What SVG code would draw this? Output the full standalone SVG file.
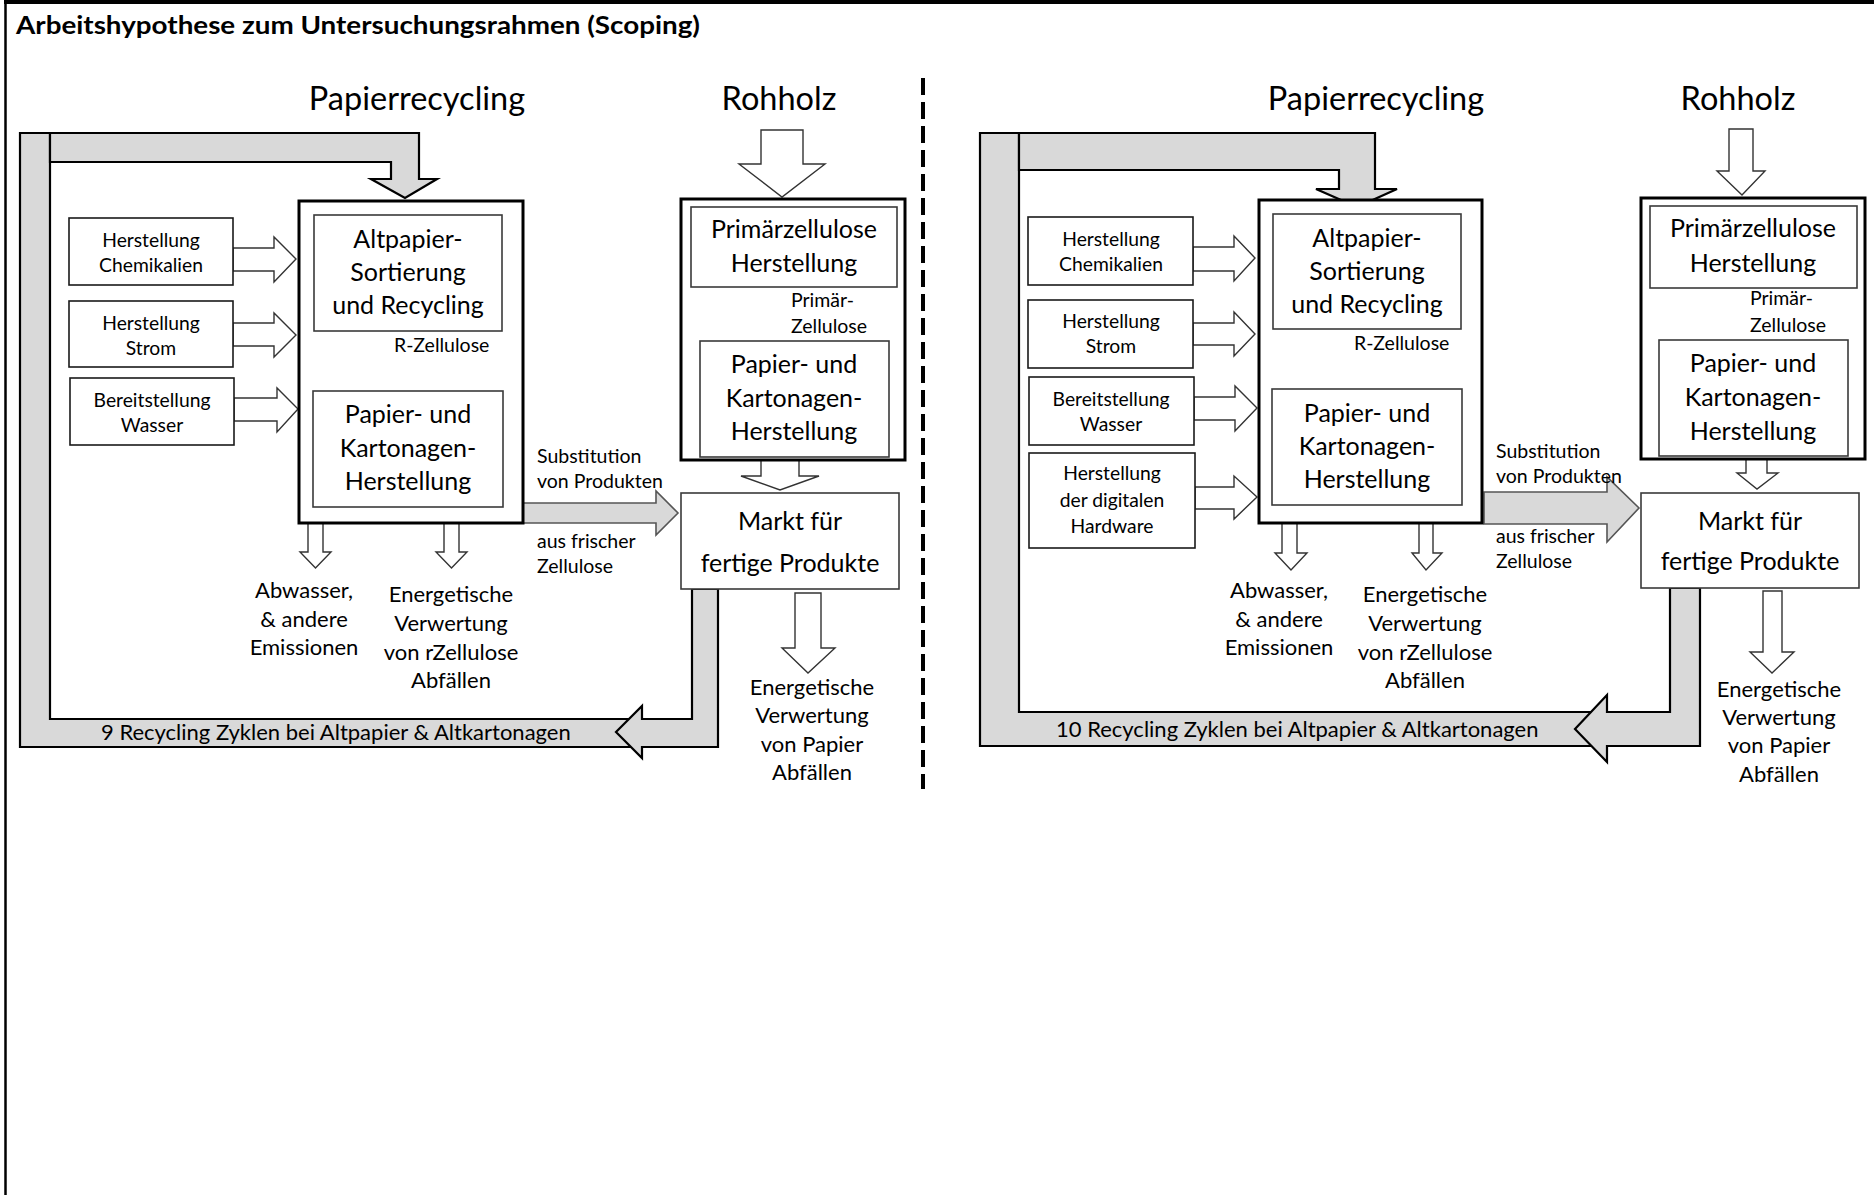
<svg xmlns="http://www.w3.org/2000/svg" width="1874" height="1195" viewBox="0 0 1874 1195">
  <style>
    text { font-family: Lato, "Open Sans", "Liberation Sans", sans-serif; fill: #000; }
    .title { font-size: 25.5px; font-weight: bold; }
    .head { font-size: 32.5px; text-anchor: middle; }
    .big { font-size: 25px; text-anchor: middle; }
    .mid { font-size: 22px; text-anchor: middle; }
    .sm { font-size: 19.3px; text-anchor: middle; }
    .lbl { font-size: 19.5px; }
    .loop-lbl { font-size: 22px; }
    .frame { fill: none; stroke: #000; }
    .outer { fill: #fff; stroke: #000; stroke-width: 3; }
    .inner { fill: #fff; stroke: #3a3a3a; stroke-width: 1.6; }
    .src { fill: #fff; stroke: #1a1a1a; stroke-width: 1.6; }
    .hollow { fill: #fff; stroke: #333; stroke-width: 1.4; stroke-linejoin: miter; }
    .band { fill: #d9d9d9; stroke: #000; stroke-width: 2.2; stroke-linejoin: miter; }
    .flow { fill: #d9d9d9; stroke: #555; stroke-width: 1.6; stroke-linejoin: miter; }
    .divider { stroke: #000; stroke-width: 4; stroke-dasharray: 17 7; }
  </style>

  <!-- page frame and heading -->
  <line class="frame" x1="5.5" y1="1195" x2="5.5" y2="2" stroke-width="2.5"/>
  <line class="frame" x1="4" y1="2" x2="1874" y2="2" stroke-width="4"/>
  <text class="title" x="16" y="34" textLength="684" lengthAdjust="spacingAndGlyphs">Arbeitshypothese zum Untersuchungsrahmen (Scoping)</text>

  <!-- divider between the two scenarios -->
  <line class="divider" x1="923" y1="78" x2="923" y2="789"/>

  <!-- ===================== scenario 1 ===================== -->
  <g id="s1-headings">
    <text class="head" x="417" y="110">Papierrecycling</text>
    <text class="head" x="779" y="110">Rohholz</text>
  </g>

  <g id="s1-connectors">
    <!-- recycling loop band -->
    <polygon class="band" points="20,133 50,133 50,719 636,719 636,747 20,747"/>
    <polygon class="band" points="50,133 419,133 419,179 437,179 405,198 371,179 391,179 391,162 50,162"/>
    <polygon class="band" points="692,589 718,589 718,747 642,747 642,758 616,732 642,706 642,719 692,719"/>
    <!-- inputs -->
    <polygon class="hollow" points="233,248 274,248 274,237 296,259 274,282 274,271 233,271"/>
    <polygon class="hollow" points="233,323 274,323 274,313 296,335 274,357 274,346 233,346"/>
    <polygon class="hollow" points="234,398 277,398 277,388 298,409 277,432 277,421 234,421"/>
    <!-- R-Zellulose -->
    <polygon class="flow" points="359,332 388,332 388,365 404,365 374,389 343,365 359,365"/>
    <!-- outputs of recycling plant -->
    <polygon class="hollow" points="308,523 323,523 323,552 331,552 315.5,568 300,552 308,552"/>
    <polygon class="hollow" points="444,523 459,523 459,552 467,552 451.5,568 436,552 444,552"/>
    <!-- Rohholz -->
    <polygon class="hollow" points="761,130 803,130 803,164 825,164 782,197 739,164 761,164"/>
    <polygon class="hollow" points="735,288 764,288 764,319 779,319 749,340 720,319 735,319"/>
    <polygon class="hollow" points="761,460 799,460 799,476 819,476 780,490 741,476 761,476"/>
    <!-- substitution -->
    <polygon class="flow" points="523,503 656,503 656,491 678,513 656,535 656,523 523,523"/>
    <!-- end of life -->
    <polygon class="hollow" points="795,593 821,593 821,648 835,648 808,673 782,648 795,648"/>
  </g>

  <g id="s1-chem">
    <rect class="src" x="69" y="218" width="164" height="67"/>
    <text class="sm" x="151" y="247">Herstellung</text>
    <text class="sm" x="151" y="272">Chemikalien</text>
  </g>
  <g id="s1-strom">
    <rect class="src" x="69" y="301" width="164" height="66"/>
    <text class="sm" x="151" y="330">Herstellung</text>
    <text class="sm" x="151" y="355">Strom</text>
  </g>
  <g id="s1-wasser">
    <rect class="src" x="70" y="378" width="164" height="67"/>
    <text class="sm" x="152" y="407">Bereitstellung</text>
    <text class="sm" x="152" y="432">Wasser</text>
  </g>

  <g id="s1-recycling">
    <rect class="outer" x="299" y="201" width="224" height="322"/>
    <g id="s1-sortierung">
      <rect class="inner" x="314" y="215" width="188" height="116"/>
      <text class="big" x="408" y="248">Altpapier-</text>
      <text class="big" x="408" y="281">Sortierung</text>
      <text class="big" x="408" y="314">und Recycling</text>
    </g>
    <text class="lbl" x="394" y="352">R-Zellulose</text>
    <g id="s1-papier">
      <rect class="inner" x="313" y="391" width="190" height="116"/>
      <text class="big" x="408" y="423">Papier- und</text>
      <text class="big" x="408" y="457">Kartonagen-</text>
      <text class="big" x="408" y="490">Herstellung</text>
    </g>
  </g>

  <g id="s1-primaer">
    <rect class="outer" x="681" y="199" width="224" height="261"/>
    <g id="s1-zellstoff">
      <rect class="inner" x="691" y="207" width="206" height="80"/>
      <text class="big" x="794" y="238">Primärzellulose</text>
      <text class="big" x="794" y="272">Herstellung</text>
    </g>
    <text class="lbl" x="791" y="307">Primär-</text>
    <text class="lbl" x="791" y="333">Zellulose</text>
    <g id="s1-papier-primaer">
      <rect class="inner" x="700" y="341" width="189" height="116"/>
      <text class="big" x="794" y="373">Papier- und</text>
      <text class="big" x="794" y="407">Kartonagen-</text>
      <text class="big" x="794" y="440">Herstellung</text>
    </g>
  </g>

  <g id="s1-markt">
    <rect class="inner" x="681" y="493" width="218" height="96"/>
    <text class="big" x="790" y="530">Markt für</text>
    <text class="big" x="790" y="572">fertige Produkte</text>
  </g>

  <g id="s1-labels">
    <text class="lbl" x="537" y="463">Substitution</text>
    <text class="lbl" x="537" y="488">von Produkten</text>
    <text class="lbl" x="537" y="548">aus frischer</text>
    <text class="lbl" x="537" y="573">Zellulose</text>
    <text class="mid" x="304" y="598">Abwasser,</text>
    <text class="mid" x="304" y="627">&amp; andere</text>
    <text class="mid" x="304" y="655">Emissionen</text>
    <text class="mid" x="451" y="602">Energetische</text>
    <text class="mid" x="451" y="631">Verwertung</text>
    <text class="mid" x="451" y="660">von rZellulose</text>
    <text class="mid" x="451" y="688">Abfällen</text>
    <text class="mid" x="812" y="695">Energetische</text>
    <text class="mid" x="812" y="723">Verwertung</text>
    <text class="mid" x="812" y="752">von Papier</text>
    <text class="mid" x="812" y="780">Abfällen</text>
    <text class="loop-lbl" x="101" y="740">9 Recycling Zyklen bei Altpapier &amp; Altkartonagen</text>
  </g>

  <!-- ===================== scenario 2 ===================== -->
  <g id="s2-headings">
    <text class="head" x="1376" y="110">Papierrecycling</text>
    <text class="head" x="1738" y="110">Rohholz</text>
  </g>

  <g id="s2-connectors">
    <polygon class="band" points="980,133 1019,133 1019,712 1595,712 1595,746 980,746"/>
    <polygon class="band" points="1019,133 1375,133 1375,189 1397,189 1357,207 1316,189 1339,189 1339,170 1019,170"/>
    <polygon class="band" points="1670,588 1700,588 1700,746 1607,746 1607,762 1575,729 1607,695 1607,712 1670,712"/>
    <polygon class="hollow" points="1193,247 1234,247 1234,236 1255,258 1234,281 1234,271 1193,271"/>
    <polygon class="hollow" points="1193,323 1234,323 1234,312 1255,334 1234,356 1234,345 1193,345"/>
    <polygon class="hollow" points="1194,397 1235,397 1235,386 1257,408 1235,431 1235,420 1194,420"/>
    <polygon class="hollow" points="1195,487 1234,487 1234,476 1257,497 1234,519 1234,509 1195,509"/>
    <polygon class="flow" points="1310,332 1345,332 1345,366 1362,366 1327,389 1291,366 1310,366"/>
    <polygon class="hollow" points="1282,523 1297,523 1297,553 1307,553 1291,570 1275,553 1282,553"/>
    <polygon class="hollow" points="1419,523 1433,523 1433,553 1442,553 1426,570 1412,553 1419,553"/>
    <polygon class="hollow" points="1729,129 1753,129 1753,171 1765,171 1742,195 1717,171 1729,171"/>
    <polygon class="hollow" points="1706,288 1727,288 1727,318 1738,318 1716,337 1693,318 1706,318"/>
    <polygon class="hollow" points="1746,459 1767,459 1767,473 1778,473 1757,489 1737,473 1746,473"/>
    <polygon class="flow" points="1484,492 1607,492 1607,477 1639,508 1607,542 1607,524 1484,524"/>
    <polygon class="hollow" points="1763,591 1782,591 1782,652 1794,652 1772,673 1750,652 1763,652"/>
  </g>

  <g id="s2-chem">
    <rect class="src" x="1028" y="217" width="165" height="68"/>
    <text class="sm" x="1111" y="246">Herstellung</text>
    <text class="sm" x="1111" y="271">Chemikalien</text>
  </g>
  <g id="s2-strom">
    <rect class="src" x="1028" y="300" width="165" height="68"/>
    <text class="sm" x="1111" y="328">Herstellung</text>
    <text class="sm" x="1111" y="353">Strom</text>
  </g>
  <g id="s2-wasser">
    <rect class="src" x="1029" y="377" width="165" height="68"/>
    <text class="sm" x="1111" y="406">Bereitstellung</text>
    <text class="sm" x="1111" y="431">Wasser</text>
  </g>
  <g id="s2-hardware">
    <rect class="src" x="1029" y="453" width="166" height="95"/>
    <text class="sm" x="1112" y="480">Herstellung</text>
    <text class="sm" x="1112" y="507">der digitalen</text>
    <text class="sm" x="1112" y="533">Hardware</text>
  </g>

  <g id="s2-recycling">
    <rect class="outer" x="1259" y="200" width="223" height="323"/>
    <g id="s2-sortierung">
      <rect class="inner" x="1273" y="214" width="188" height="115"/>
      <text class="big" x="1367" y="247">Altpapier-</text>
      <text class="big" x="1367" y="280">Sortierung</text>
      <text class="big" x="1367" y="313">und Recycling</text>
    </g>
    <text class="lbl" x="1354" y="350">R-Zellulose</text>
    <g id="s2-papier">
      <rect class="inner" x="1272" y="389" width="190" height="116"/>
      <text class="big" x="1367" y="422">Papier- und</text>
      <text class="big" x="1367" y="455">Kartonagen-</text>
      <text class="big" x="1367" y="488">Herstellung</text>
    </g>
  </g>

  <g id="s2-primaer">
    <rect class="outer" x="1641" y="198" width="224" height="261"/>
    <g id="s2-zellstoff">
      <rect class="inner" x="1650" y="206" width="207" height="82"/>
      <text class="big" x="1753" y="237">Primärzellulose</text>
      <text class="big" x="1753" y="272">Herstellung</text>
    </g>
    <text class="lbl" x="1750" y="305">Primär-</text>
    <text class="lbl" x="1750" y="332">Zellulose</text>
    <g id="s2-papier-primaer">
      <rect class="inner" x="1659" y="340" width="189" height="116"/>
      <text class="big" x="1753" y="372">Papier- und</text>
      <text class="big" x="1753" y="406">Kartonagen-</text>
      <text class="big" x="1753" y="440">Herstellung</text>
    </g>
  </g>

  <g id="s2-markt">
    <rect class="inner" x="1641" y="493" width="218" height="95"/>
    <text class="big" x="1750" y="530">Markt für</text>
    <text class="big" x="1750" y="570">fertige Produkte</text>
  </g>

  <g id="s2-labels">
    <text class="lbl" x="1496" y="458">Substitution</text>
    <text class="lbl" x="1496" y="483">von Produkten</text>
    <text class="lbl" x="1496" y="543">aus frischer</text>
    <text class="lbl" x="1496" y="568">Zellulose</text>
    <text class="mid" x="1279" y="598">Abwasser,</text>
    <text class="mid" x="1279" y="627">&amp; andere</text>
    <text class="mid" x="1279" y="655">Emissionen</text>
    <text class="mid" x="1425" y="602">Energetische</text>
    <text class="mid" x="1425" y="631">Verwertung</text>
    <text class="mid" x="1425" y="660">von rZellulose</text>
    <text class="mid" x="1425" y="688">Abfällen</text>
    <text class="mid" x="1779" y="697">Energetische</text>
    <text class="mid" x="1779" y="725">Verwertung</text>
    <text class="mid" x="1779" y="753">von Papier</text>
    <text class="mid" x="1779" y="782">Abfällen</text>
    <text class="loop-lbl" x="1056" y="737">10 Recycling Zyklen bei Altpapier &amp; Altkartonagen</text>
  </g>
</svg>
